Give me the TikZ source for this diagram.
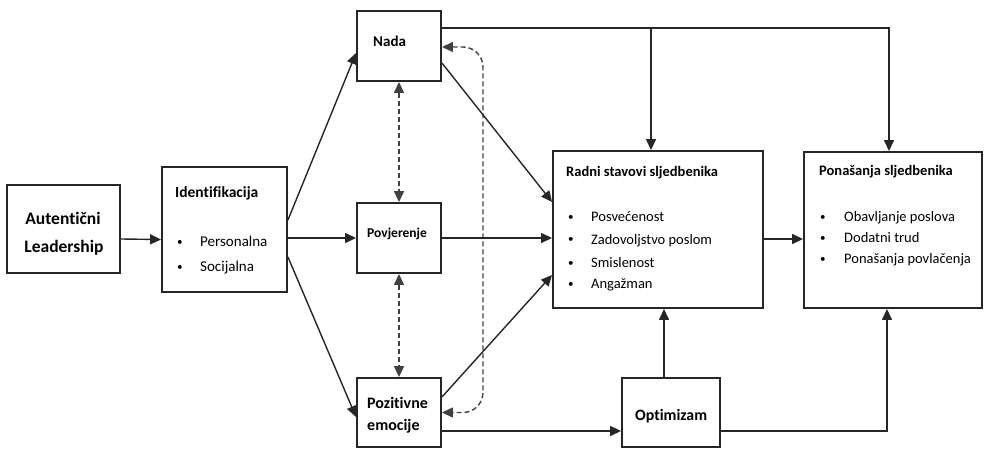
\documentclass[tikz,border=0pt]{standalone}
\usepackage{fontspec}
\setmainfont{Carlito}[Ligatures={NoCommon}]
\usetikzlibrary{arrows.meta,calc}
\begin{document}
\begin{tikzpicture}[x=1pt,y=-1pt,
  box/.style={draw=black!85,line width=1.9pt,rectangle,inner sep=0pt},
  conn/.style={draw=black!85,line width=1.4pt,-{Triangle[length=11pt,width=10pt]}},
  dconn/.style={draw=black!75,line width=1.4pt,dash pattern=on 5pt off 3pt,{Triangle[length=11pt,width=10pt]}-{Triangle[length=11pt,width=10pt]}},
  ttl/.style={anchor=base west,inner sep=0pt,font=\bfseries\fontsize{15}{18}\selectfont},
  itm/.style={anchor=base west,inner sep=0pt,font=\fontsize{14.5}{17}\selectfont},
  bul/.style={anchor=base west,inner sep=0pt,font=\fontsize{11}{13}\selectfont},
]
\useasboundingbox (0,0) rectangle (985,449);
% boxes
\node[box,minimum width=113pt,minimum height=88pt] (A) at (63.5,229) {};
\node[box,minimum width=125pt,minimum height=125pt] (I) at (224.5,229.5) {};
\node[box,minimum width=84pt,minimum height=70pt] (N) at (399,46) {};
\node[box,minimum width=84pt,minimum height=70pt] (P) at (399,238) {};
\node[box,minimum width=84pt,minimum height=69pt] (E) at (399,412.5) {};
\node[box,minimum width=210pt,minimum height=157pt] (R) at (658,229.5) {};
\node[box,minimum width=178pt,minimum height=156pt] (B) at (893,230) {};
\node[box,minimum width=98pt,minimum height=69pt] (O) at (671,412.5) {};
% texts
\node[anchor=base,inner sep=0pt,font=\bfseries\fontsize{17.5}{20}\selectfont] (A1) at (63,225) {Autentični};
\node[anchor=base,inner sep=0pt,font=\bfseries\fontsize{17.5}{20}\selectfont] (A2) at (64,252) {Leadership};
\node[ttl,font=\bfseries\fontsize{15.5}{18}\selectfont] (I0) at (175,198) {Identifikacija};
\node[bul] (Ib1) at (177,245) {•};
\node[bul] (Ib2) at (177,270) {•};
\node[itm,font=\fontsize{15}{18}\selectfont] (I1) at (200,246) {Personalna};
\node[itm,font=\fontsize{15}{18}\selectfont] (I2) at (200,271) {Socijalna};
\node[ttl] (N0) at (373,47) {Nada};
\node[ttl,font=\bfseries\fontsize{13.5}{16}\selectfont] (P0) at (367,237) {Povjerenje};
\node[ttl,font=\bfseries\fontsize{16}{19}\selectfont] (E1) at (367,408) {Pozitivne};
\node[ttl,font=\bfseries\fontsize{16}{19}\selectfont] (E2) at (367,430) {emocije};
\node[ttl,font=\bfseries\fontsize{14.5}{17}\selectfont] (R0) at (566,177) {Radni stavovi sljedbenika};
\node[bul] (Rb1) at (568,221) {•};
\node[bul] (Rb2) at (568,243) {•};
\node[bul] (Rb3) at (568,266) {•};
\node[bul] (Rb4) at (568,287) {•};
\node[itm] (R1) at (591,222) {Posvećenost};
\node[itm] (R2) at (591,244) {Zadovoljstvo poslom};
\node[itm] (R3) at (591,267) {Smislenost};
\node[itm] (R4) at (591,288) {Angažman};
\node[ttl,font=\bfseries\fontsize{14.5}{17}\selectfont] (B0) at (819,176) {Ponašanja sljedbenika};
\node[bul] (Bb1) at (820,221) {•};
\node[bul] (Bb2) at (820,241) {•};
\node[bul] (Bb3) at (820,262) {•};
\node[itm] (B1) at (844,222) {Obavljanje poslova};
\node[itm] (B2) at (844,242) {Dodatni trud};
\node[itm] (B3) at (844,263) {Ponašanja povlačenja};
\node[ttl,font=\bfseries\fontsize{15.8}{19}\selectfont] (O0) at (635,420) {Optimizam};
% connectors
\draw[conn] ([yshift=-10pt]A.east) -- ([yshift=-10pt]I.west);
\draw[conn] ([yshift=9.5pt]I.east) -- ([yshift=-7pt]N.west);
\draw[conn] (I.east |- P.west) -- (P.west);
\draw[conn] ([yshift=-27.5pt]I.east) -- ([yshift=-4.5pt]E.west);
\draw[dconn] (N.south) -- (P.north);
\draw[dconn] (P.south) -- (E.north);
\path ([yshift=-1pt]N.east) coordinate (nd) ([yshift=0pt]E.east) coordinate (ed);
\draw[dconn,rounded corners=20pt] (nd) -- ($(nd)+(41,0)$) -- ($(ed)+(41,0)$) -- (ed);
\draw[conn] ([yshift=-17pt]N.east) -- ([yshift=27.5pt]R.west);
\draw[conn] (P.east) -- (P.east -| R.west);
\draw[conn] ([yshift=15.5pt]E.east) -- ([yshift=-45.5pt]R.west);
\draw[conn] ([yshift=-18.5pt]E.east) -- ([yshift=-18.5pt]E.east -| O.west);
\draw[conn] ([xshift=-7pt]O.north) -- ([xshift=-7pt]O.north |- R.south);
\draw[conn] ([yshift=-18.5pt]O.east) -| ([xshift=-6pt]B.south);
\path ([yshift=18pt]N.east) coordinate (t) ([xshift=-7pt]R.north) coordinate (rn);
\draw[conn] (t) -| ([xshift=-4pt]B.north);
\draw[conn] (t -| rn) -- (rn);
\draw[conn] ([yshift=-9.5pt]R.east) -- ([yshift=-9.5pt]R.east -| B.west);
\end{tikzpicture}
\end{document}
